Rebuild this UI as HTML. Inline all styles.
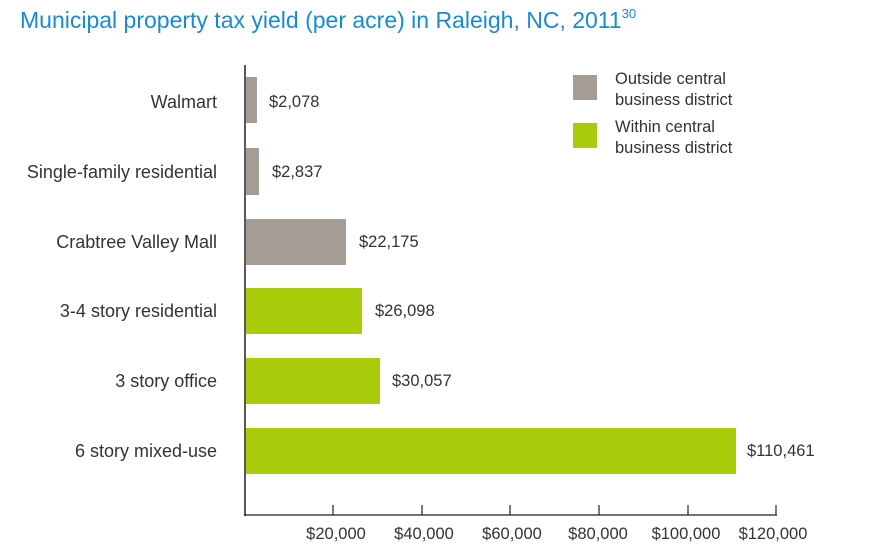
<!DOCTYPE html>
<html><head><style>
body{margin:0;background:#fff;width:875px;height:549px;overflow:hidden;font-family:"Liberation Sans",sans-serif;}
</style></head><body>
<svg width="875" height="549" xmlns="http://www.w3.org/2000/svg" font-family="Liberation Sans, sans-serif">
<text x="20" y="28" font-size="23" fill="#1b8ad0">Municipal property tax yield (per acre) in Raleigh, NC, 2011<tspan font-size="13" dy="-10">30</tspan></text>
<g font-size="18" fill="#333" text-anchor="end">
<text x="217" y="108">Walmart</text>
<text x="217" y="178">Single-family residential</text>
<text x="217" y="248">Crabtree Valley Mall</text>
<text x="217" y="317">3-4 story residential</text>
<text x="217" y="387">3 story office</text>
<text x="217" y="457">6 story mixed-use</text>
</g>
<g fill="#a39d96">
<rect x="246" y="77" width="11" height="46"/>
<rect x="246" y="148" width="13" height="47"/>
<rect x="246" y="219" width="100" height="46"/>
</g>
<g fill="#a8cc0a">
<rect x="246" y="288" width="116" height="46"/>
<rect x="246" y="358" width="134" height="46"/>
<rect x="246" y="428" width="490" height="46"/>
</g>
<g font-size="16.5" fill="#333">
<text x="269" y="107">$2,078</text>
<text x="272" y="177">$2,837</text>
<text x="359" y="247">$22,175</text>
<text x="375" y="316">$26,098</text>
<text x="392" y="386">$30,057</text>
<text x="747" y="456">$110,461</text>
</g>
<line x1="245" y1="65" x2="245" y2="516" stroke="#222" stroke-width="1.5"/>
<line x1="244" y1="515" x2="777" y2="515" stroke="#222" stroke-width="1.2"/>
<g stroke="#222" stroke-width="1.2">
<line x1="333" y1="505" x2="333" y2="515"/>
<line x1="422" y1="505" x2="422" y2="515"/>
<line x1="510" y1="505" x2="510" y2="515"/>
<line x1="599" y1="505" x2="599" y2="515"/>
<line x1="688" y1="505" x2="688" y2="515"/>
<line x1="776" y1="505" x2="776" y2="515"/>
</g>
<g font-size="16.5" fill="#333" text-anchor="middle">
<text x="336" y="539">$20,000</text>
<text x="424" y="539">$40,000</text>
<text x="512" y="539">$60,000</text>
<text x="598" y="539">$80,000</text>
<text x="686" y="539">$100,000</text>
<text x="773" y="539">$120,000</text>
</g>
<rect x="573" y="75" width="24" height="25" fill="#a39d96"/>
<rect x="573" y="123" width="24" height="25" fill="#a8cc0a"/>
<g font-size="16.5" fill="#333">
<text x="615" y="84">Outside central</text>
<text x="615" y="105">business district</text>
<text x="615" y="132">Within central</text>
<text x="615" y="153">business district</text>
</g>
</svg>
</body></html>
